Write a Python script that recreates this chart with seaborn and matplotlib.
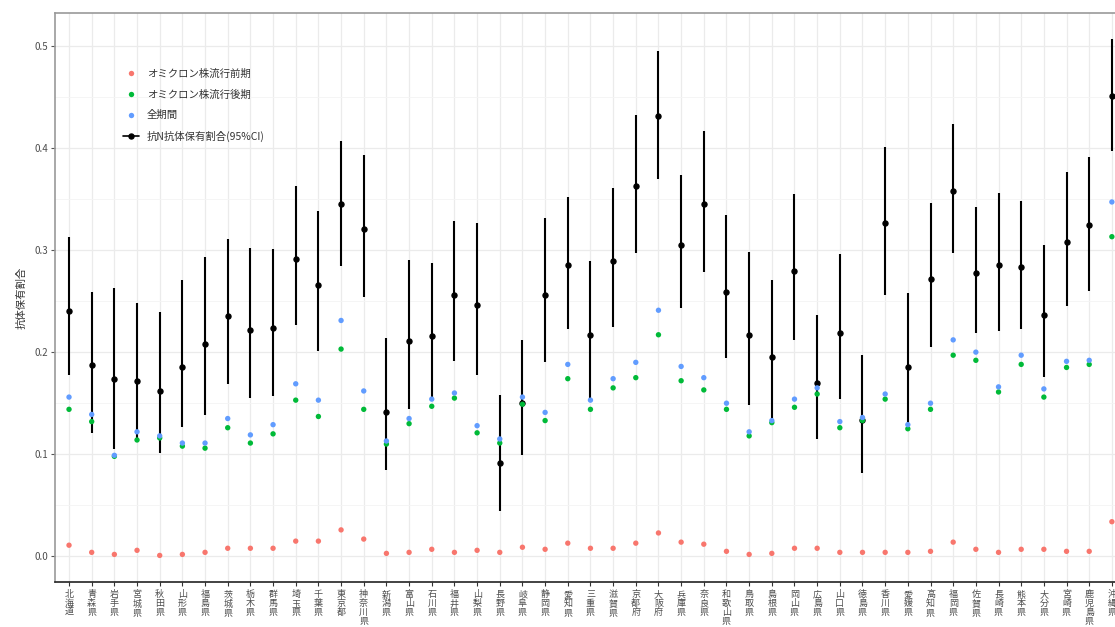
import numpy as np
import pandas as pd
import seaborn as sns
import matplotlib.pyplot as plt
from matplotlib.lines import Line2D
from matplotlib.ticker import MultipleLocator, FormatStrFormatter

# prefectures, north to south
prefs = ['北海道', '青森県', '岩手県', '宮城県', '秋田県', '山形県', '福島県',
         '茨城県', '栃木県', '群馬県', '埼玉県', '千葉県', '東京都', '神奈川県',
         '新潟県', '富山県', '石川県', '福井県', '山梨県', '長野県', '岐阜県',
         '静岡県', '愛知県', '三重県', '滋賀県', '京都府', '大阪府', '兵庫県',
         '奈良県', '和歌山県', '鳥取県', '島根県', '岡山県', '広島県', '山口県',
         '徳島県', '香川県', '愛媛県', '高知県', '福岡県', '佐賀県', '長崎県',
         '熊本県', '大分県', '宮崎県', '鹿児島県', '沖縄県']

# anti-N antibody prevalence with 95% CI
est = [0.240, 0.187, 0.174, 0.172, 0.162, 0.185, 0.208, 0.235, 0.222, 0.224,
       0.291, 0.266, 0.345, 0.321, 0.141, 0.211, 0.216, 0.256, 0.246, 0.091,
       0.150, 0.256, 0.285, 0.217, 0.289, 0.363, 0.431, 0.305, 0.345, 0.259,
       0.217, 0.195, 0.279, 0.170, 0.219, 0.134, 0.326, 0.185, 0.272, 0.358,
       0.277, 0.285, 0.283, 0.236, 0.308, 0.324, 0.451]
ci_low = [0.178, 0.121, 0.105, 0.114, 0.101, 0.127, 0.138, 0.169, 0.155, 0.157,
          0.227, 0.201, 0.284, 0.254, 0.085, 0.144, 0.154, 0.191, 0.178, 0.044,
          0.099, 0.190, 0.223, 0.153, 0.225, 0.297, 0.369, 0.243, 0.278, 0.194,
          0.148, 0.136, 0.212, 0.115, 0.154, 0.082, 0.256, 0.124, 0.205, 0.297,
          0.219, 0.221, 0.223, 0.176, 0.245, 0.260, 0.397]
ci_high = [0.313, 0.259, 0.263, 0.248, 0.239, 0.271, 0.293, 0.311, 0.302, 0.301,
           0.363, 0.338, 0.407, 0.393, 0.214, 0.290, 0.287, 0.328, 0.326, 0.158,
           0.212, 0.331, 0.352, 0.289, 0.361, 0.432, 0.495, 0.373, 0.416, 0.334,
           0.298, 0.271, 0.355, 0.236, 0.296, 0.197, 0.401, 0.258, 0.346, 0.423,
           0.342, 0.356, 0.348, 0.305, 0.376, 0.391, 0.507]

# infection proportion by period
omicron_early = [0.011, 0.004, 0.002, 0.006, 0.001, 0.002, 0.004, 0.008, 0.008, 0.008,
                 0.015, 0.015, 0.026, 0.017, 0.003, 0.004, 0.007, 0.004, 0.006, 0.004,
                 0.009, 0.007, 0.013, 0.008, 0.008, 0.013, 0.023, 0.014, 0.012, 0.005,
                 0.002, 0.003, 0.008, 0.008, 0.004, 0.004, 0.004, 0.004, 0.005, 0.014,
                 0.007, 0.004, 0.007, 0.007, 0.005, 0.005, 0.034]
omicron_late = [0.144, 0.132, 0.098, 0.114, 0.116, 0.108, 0.106, 0.126, 0.111, 0.120,
                0.153, 0.137, 0.203, 0.144, 0.110, 0.130, 0.147, 0.155, 0.121, 0.111,
                0.149, 0.133, 0.174, 0.144, 0.165, 0.175, 0.217, 0.172, 0.163, 0.144,
                0.118, 0.131, 0.146, 0.159, 0.126, 0.133, 0.154, 0.125, 0.144, 0.197,
                0.192, 0.161, 0.188, 0.156, 0.185, 0.188, 0.313]
whole_period = [0.156, 0.139, 0.099, 0.122, 0.118, 0.111, 0.111, 0.135, 0.119, 0.129,
                0.169, 0.153, 0.231, 0.162, 0.113, 0.135, 0.154, 0.160, 0.128, 0.115,
                0.156, 0.141, 0.188, 0.153, 0.174, 0.190, 0.241, 0.186, 0.175, 0.150,
                0.122, 0.133, 0.154, 0.165, 0.132, 0.136, 0.159, 0.129, 0.150, 0.212,
                0.200, 0.166, 0.197, 0.164, 0.191, 0.192, 0.347]

series_names = ['オミクロン株流行前期', 'オミクロン株流行後期', '全期間']
ci_name = '抗N抗体保有割合(95%CI)'
colors = ['#F8766D', '#00BA38', '#619CFF']

sns.set_style('whitegrid')
plt.rcParams['font.family'] = ['Noto Sans CJK JP', 'DejaVu Sans']

pos = np.arange(len(prefs))
wide = pd.DataFrame({'pos': pos,
                     series_names[0]: omicron_early,
                     series_names[1]: omicron_late,
                     series_names[2]: whole_period})
long_df = wide.melt(id_vars='pos', var_name='period', value_name='value')

est = np.array(est)
yerr = [est - np.array(ci_low), np.array(ci_high) - est]

fig = plt.figure(figsize=(11.15, 6.27), dpi=100)
ax = fig.add_axes([0.0497, 0.0718, 0.9597, 0.9075])

ax.errorbar(pos, est, yerr=yerr, fmt='o', color='black', ms=3.6,
            elinewidth=1.5, capsize=0, zorder=3)
sns.scatterplot(data=long_df, x='pos', y='value', hue='period',
                hue_order=series_names, palette=colors, s=15,
                edgecolor='none', ax=ax, zorder=4)

ax.set_xlim(-0.6, 46.6)
ax.set_ylim(-0.025, 0.532)
ax.set_xticks(pos)
ax.set_xticklabels(['\n'.join(p) for p in prefs], fontsize=6.5,
                   linespacing=1.0, color='#4D4D4D')
ax.yaxis.set_major_locator(MultipleLocator(0.1))
ax.yaxis.set_minor_locator(MultipleLocator(0.05))
ax.yaxis.set_major_formatter(FormatStrFormatter('%.1f'))
ax.tick_params(axis='y', labelsize=7, labelcolor='#4D4D4D', length=3,
               color='#555555', width=0.8, left=True, pad=2)
ax.tick_params(axis='x', length=3, color='#333333', width=0.8, bottom=True, pad=3)

ax.grid(which='major', color='#EBEBEB', lw=0.9)
ax.grid(which='minor', axis='y', color='#F4F4F4', lw=0.6)
ax.set_axisbelow(True)

for side in ['top', 'left']:
    ax.spines[side].set_color('#999999')
    ax.spines[side].set_linewidth(1.2)
ax.spines['bottom'].set_color('#222222')
ax.spines['bottom'].set_linewidth(1.2)
ax.spines['right'].set_visible(False)

ax.set_xlabel('')
ax.set_ylabel('抗体保有割合', fontsize=7.5, color='#333333', labelpad=6)

handles, labels = ax.get_legend_handles_labels()
leg_handles = [handles[labels.index(n)] for n in series_names]
leg_handles.append(Line2D([], [], color='black', marker='o', ms=3.6, lw=1.2))
ax.legend(leg_handles, series_names + [ci_name],
          loc='upper left', bbox_to_anchor=(0.102, 0.905),
          bbox_transform=fig.transFigure, frameon=False, fontsize=7.5,
          labelspacing=1.0, handlelength=1.5, handletextpad=0.8,
          labelcolor='#333333')

plt.savefig('out.png', dpi=100)
